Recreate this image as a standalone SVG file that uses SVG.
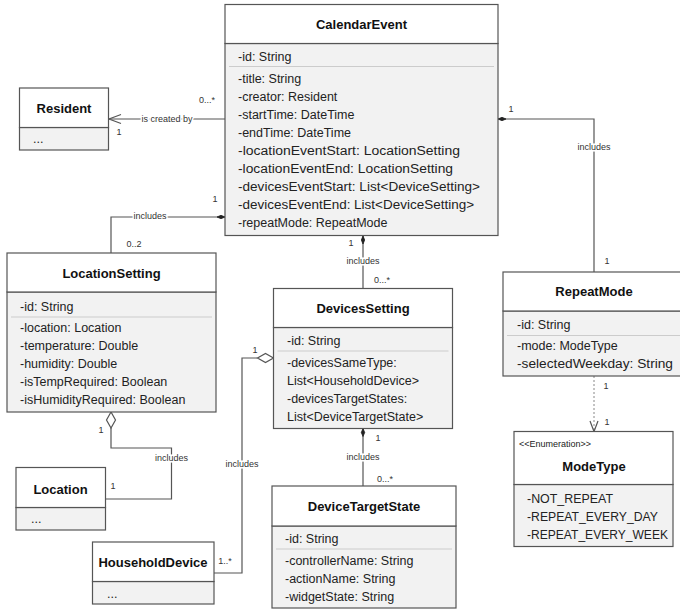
<svg xmlns="http://www.w3.org/2000/svg" width="680" height="609" viewBox="0 0 680 609">
  <style>
    .hd { fill: #ffffff; stroke: #555555; stroke-width: 1.2; }
    .bd { fill: #f2f2f2; stroke: #555555; stroke-width: 1.2; }
    .sep { stroke: #cccccc; stroke-width: 1; }
    .ttl { font-family: "Liberation Sans", Arial, sans-serif; font-size: 13px; font-weight: bold; fill: #111111; text-anchor: middle; }
    .att { font-family: "Liberation Sans", Arial, sans-serif; font-size: 12.5px; fill: #222222; }
    .ster { font-family: "Liberation Sans", Arial, sans-serif; font-size: 9px; fill: #222222; }
    .ln { fill: none; stroke: #555555; stroke-width: 1.2; }
    .dash { fill: none; stroke: #888888; stroke-width: 1; stroke-dasharray: 2 2; }
    .lbl { font-family: "Liberation Sans", Arial, sans-serif; font-size: 9px; fill: #333333; text-anchor: middle; paint-order: stroke; stroke: #ffffff; stroke-width: 3px; }
    .mul { font-family: "Liberation Sans", Arial, sans-serif; font-size: 9px; fill: #333333; text-anchor: middle; }
    .fd { fill: #222222; stroke: #222222; stroke-width: 0.8; }
    .hdm { fill: #ffffff; stroke: #555555; stroke-width: 1.2; }
  </style>

  <!-- associations -->
  <g id="connectors">
    <!-- CalendarEvent -> Resident -->
    <line class="ln" x1="225" y1="119" x2="109" y2="119"/>
    <polyline class="ln" points="121,114.5 109,119 121,123.5"/>
    <text class="lbl" x="167" y="122">is created by</text>
    <text class="mul" x="207" y="103">0...*</text>
    <text class="mul" x="119" y="135">1</text>

    <!-- CalendarEvent -> LocationSetting -->
    <polyline class="ln" points="225,217 111,217 111,253"/>
    <polygon class="fd" points="225,217 221,215.3 217,217 221,218.7"/>
    <text class="lbl" x="150" y="219">includes</text>
    <text class="mul" x="215" y="202">1</text>
    <text class="mul" x="134" y="247">0..2</text>

    <!-- CalendarEvent -> DevicesSetting -->
    <line class="ln" x1="363" y1="236" x2="363" y2="288.5"/>
    <polygon class="fd" points="363,236 361.3,240 363,244 364.7,240"/>
    <text class="lbl" x="363" y="264">includes</text>
    <text class="mul" x="351" y="246">1</text>
    <text class="mul" x="382" y="283">0...*</text>

    <!-- CalendarEvent -> RepeatMode -->
    <polyline class="ln" points="498,119 594,119 594,272"/>
    <polygon class="fd" points="498,119 502,117.3 506,119 502,120.7"/>
    <text class="lbl" x="594" y="150">includes</text>
    <text class="mul" x="511" y="112">1</text>
    <text class="mul" x="607" y="264">1</text>

    <!-- RepeatMode -> ModeType -->
    <line class="dash" x1="594" y1="376" x2="594" y2="431"/>
    <polyline class="ln" stroke-width="1" points="590,421 594,431.5 598,421"/>
    <text class="mul" x="606" y="389">1</text>
    <text class="mul" x="607" y="425">1</text>

    <!-- DevicesSetting -> DeviceTargetState -->
    <line class="ln" x1="363" y1="428.5" x2="363" y2="486"/>
    <polygon class="fd" points="363,428.5 361.3,432.5 363,436.5 364.7,432.5"/>
    <text class="lbl" x="363" y="460">includes</text>
    <text class="mul" x="378" y="441">1</text>
    <text class="mul" x="385" y="482">0...*</text>

    <!-- LocationSetting -> Location -->
    <polyline class="ln" points="111,428 111,448 171.5,448 171.5,499 105.5,499"/>
    <polygon class="hdm" points="111,412 106.5,420 111,428 115.5,420"/>
    <text class="lbl" x="171.5" y="461">includes</text>
    <text class="mul" x="101" y="433">1</text>
    <text class="mul" x="113" y="489">1</text>

    <!-- DevicesSetting -> HouseholdDevice -->
    <polyline class="ln" points="257.5,358 242,358 242,573 214,573"/>
    <polygon class="hdm" points="273.5,358 265.5,353.5 257.5,358 265.5,362.5"/>
    <text class="lbl" x="242" y="467">includes</text>
    <text class="mul" x="255" y="353">1</text>
    <text class="mul" x="225" y="564">1..*</text>
  </g>

  <g id="CalendarEvent">
    <rect class="bd" x="225" y="43.5" width="273" height="192"/>
    <rect class="hd" x="225" y="4.5" width="273" height="39"/>
    <text class="ttl" x="361.5" y="28.5">CalendarEvent</text>
    <text class="att" x="238" y="61">-id: String</text>
    <line class="sep" x1="229" y1="66.5" x2="494" y2="66.5"/>
    <text class="att" x="238" y="82.5">-title: String</text>
    <text class="att" x="238" y="100.5">-creator: Resident</text>
    <text class="att" x="238" y="118.5">-startTime: DateTime</text>
    <text class="att" x="238" y="136.5">-endTime: DateTime</text>
    <text class="att" x="238" y="154.5" textLength="222" lengthAdjust="spacingAndGlyphs">-locationEventStart: LocationSetting</text>
    <text class="att" x="238" y="172.5" textLength="215" lengthAdjust="spacingAndGlyphs">-locationEventEnd: LocationSetting</text>
    <text class="att" x="238" y="190.5" textLength="242" lengthAdjust="spacingAndGlyphs">-devicesEventStart: List&lt;DeviceSetting&gt;</text>
    <text class="att" x="238" y="208.5" textLength="236" lengthAdjust="spacingAndGlyphs">-devicesEventEnd: List&lt;DeviceSetting&gt;</text>
    <text class="att" x="238" y="226.5">-repeatMode: RepeatMode</text>
  </g>

  <g id="Resident">
    <rect class="bd" x="19.5" y="127.5" width="89" height="22.5"/>
    <rect class="hd" x="19.5" y="88" width="89" height="39.5"/>
    <text class="ttl" x="64" y="112.5">Resident</text>
    <text class="att" x="33" y="143">...</text>
  </g>

  <g id="LocationSetting">
    <rect class="bd" x="7" y="292" width="209" height="120"/>
    <rect class="hd" x="7" y="253" width="209" height="39"/>
    <text class="ttl" x="111.5" y="277.5">LocationSetting</text>
    <text class="att" x="20" y="310.5">-id: String</text>
    <line class="sep" x1="11" y1="317" x2="212" y2="317"/>
    <text class="att" x="20" y="332">-location: Location</text>
    <text class="att" x="20" y="350">-temperature: Double</text>
    <text class="att" x="20" y="368">-humidity: Double</text>
    <text class="att" x="20" y="386">-isTempRequired: Boolean</text>
    <text class="att" x="20" y="404">-isHumidityRequired: Boolean</text>
  </g>

  <g id="Location">
    <rect class="bd" x="16" y="507.5" width="89.5" height="22.5"/>
    <rect class="hd" x="16" y="467.5" width="89.5" height="40"/>
    <text class="ttl" x="60.5" y="493.5">Location</text>
    <text class="att" x="31" y="523">...</text>
  </g>

  <g id="HouseholdDevice">
    <rect class="bd" x="92.5" y="581.5" width="121.5" height="22.5"/>
    <rect class="hd" x="92.5" y="542" width="121.5" height="39.5"/>
    <text class="ttl" x="153" y="566.5">HouseholdDevice</text>
    <text class="att" x="107" y="598">...</text>
  </g>

  <g id="DevicesSetting">
    <rect class="bd" x="273.5" y="327.5" width="179" height="101"/>
    <rect class="hd" x="273.5" y="288.5" width="179" height="39"/>
    <text class="ttl" x="363" y="312.5">DevicesSetting</text>
    <text class="att" x="287" y="344.5">-id: String</text>
    <line class="sep" x1="277.5" y1="351" x2="448.5" y2="351"/>
    <text class="att" x="287" y="366.5">-devicesSameType:</text>
    <text class="att" x="287" y="384.5">List&lt;HouseholdDevice&gt;</text>
    <text class="att" x="287" y="402.5">-devicesTargetStates:</text>
    <text class="att" x="287" y="420.5">List&lt;DeviceTargetState&gt;</text>
  </g>

  <g id="DeviceTargetState">
    <rect class="bd" x="272" y="526" width="184" height="82"/>
    <rect class="hd" x="272" y="486" width="184" height="40"/>
    <text class="ttl" x="364" y="511">DeviceTargetState</text>
    <text class="att" x="285" y="542.5">-id: String</text>
    <line class="sep" x1="276" y1="549" x2="452" y2="549"/>
    <text class="att" x="285" y="564.5">-controllerName: String</text>
    <text class="att" x="285" y="582.5">-actionName: String</text>
    <text class="att" x="285" y="600.5">-widgetState: String</text>
  </g>

  <g id="RepeatMode">
    <rect class="bd" x="503" y="311" width="180" height="65"/>
    <rect class="hd" x="503" y="272" width="180" height="39"/>
    <text class="ttl" x="594" y="296">RepeatMode</text>
    <text class="att" x="517" y="328.5">-id: String</text>
    <line class="sep" x1="507" y1="335.5" x2="680" y2="335.5"/>
    <text class="att" x="517" y="350">-mode: ModeType</text>
    <text class="att" x="517" y="368" textLength="156" lengthAdjust="spacingAndGlyphs">-selectedWeekday: String</text>
  </g>

  <g id="ModeType">
    <rect class="bd" x="514" y="484.5" width="159" height="62"/>
    <rect class="hd" x="514" y="431.5" width="159" height="53"/>
    <text class="ster" x="519" y="447">&lt;&lt;Enumeration&gt;&gt;</text>
    <text class="ttl" x="594" y="470.5">ModeType</text>
    <text class="att" x="527" y="502.5" textLength="86" lengthAdjust="spacingAndGlyphs">-NOT_REPEAT</text>
    <text class="att" x="527" y="520.5" textLength="131" lengthAdjust="spacingAndGlyphs">-REPEAT_EVERY_DAY</text>
    <text class="att" x="527" y="538.5" textLength="141" lengthAdjust="spacingAndGlyphs">-REPEAT_EVERY_WEEK</text>
  </g>
</svg>
